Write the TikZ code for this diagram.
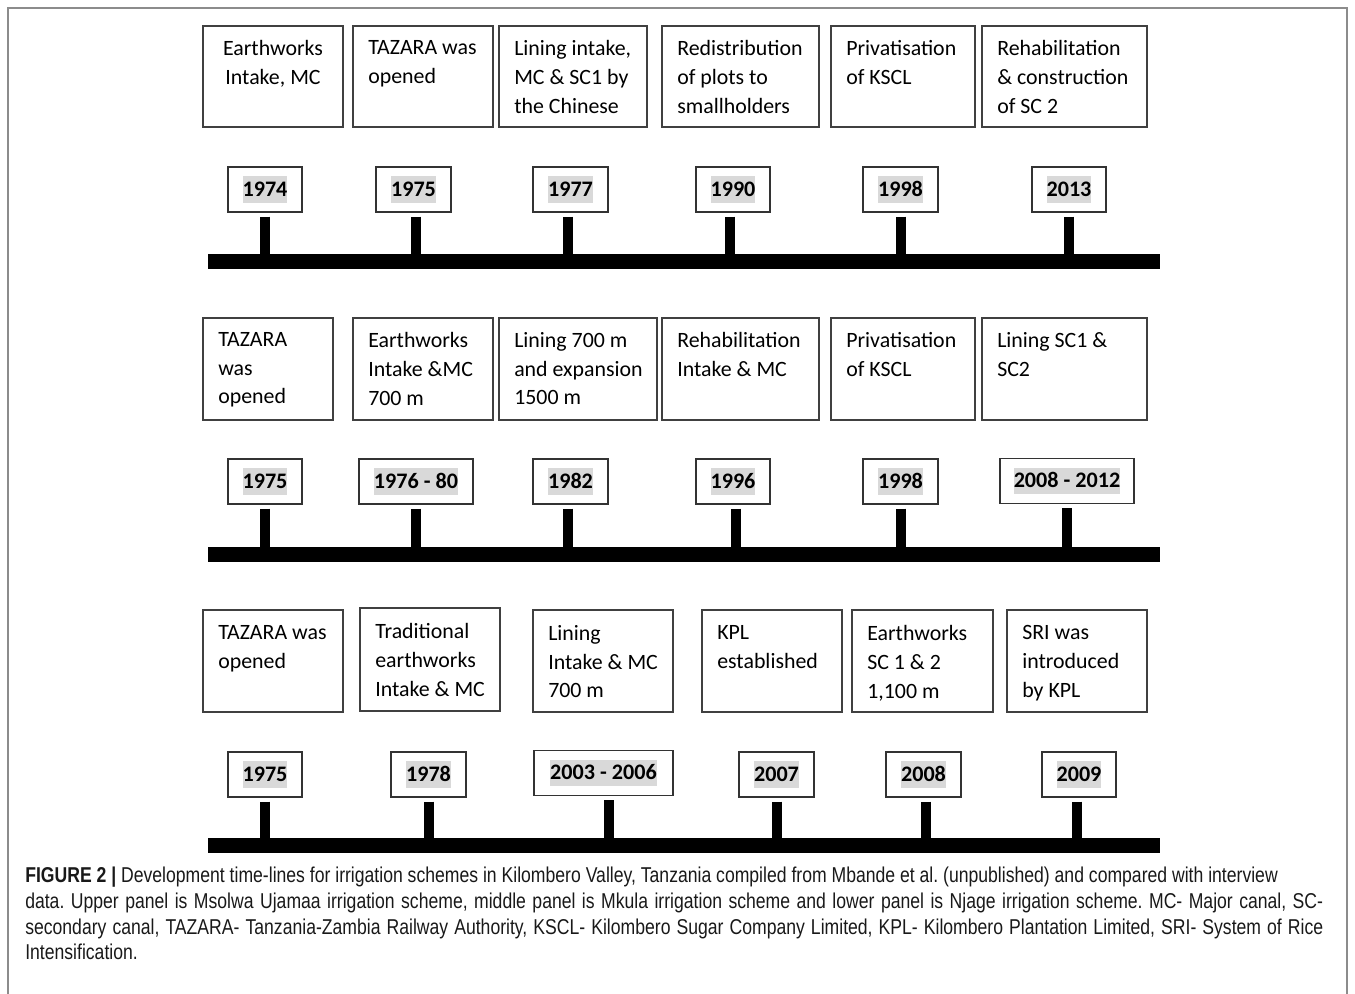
\documentclass[tikz,border=0pt]{standalone}
\usepackage{fontspec}
\setmainfont{Carlito}
\newfontfamily\capfont[FakeStretch=0.82]{Liberation Sans}
\definecolor{hlgrey}{RGB}{217,217,217}
\newcommand{\yr}[1]{{\setlength{\fboxsep}{0pt}\colorbox{hlgrey}{\rule[-4.8pt]{0pt}{20pt}#1}}}

\begin{document}
\begin{tikzpicture}[x=0.75pt,y=0.75pt,yscale=-1,xscale=1,
  frame/.style={draw={rgb, 255:red, 140; green, 140; blue, 140 },line width=1pt},
  evline/.style={draw={rgb, 255:red, 64; green, 64; blue, 64 },line width=1pt},
  evtxt/.style={anchor=north west,inner sep=0pt,align=left,font=\fontsize{16.4}{21.6}\selectfont,execute at begin node=\strut},
  yrbox/.style={draw={rgb, 255:red, 51; green, 51; blue, 51 },line width=1pt,inner sep=0pt,minimum height=33.75pt,font=\bfseries\fontsize{16.6}{19}\selectfont},
  stem/.style={line width=7.5pt,shorten <=3pt},
  bar/.style={fill=black,inner sep=0pt,minimum width=714pt,minimum height=11.25pt}
]
\useasboundingbox (0,0) rectangle (1355,994);
%Straight Lines: frame
\draw [frame] (8,994) -- (8,8) -- (1347,8) -- (1347,994) ;

%%%% upper panel
%Shape: Rectangle
\draw [evline] (203,26) rectangle (343,127) ;
\draw [evline] (353,26) rectangle (493,127) ;
\draw [evline] (499,26) rectangle (647,127) ;
\draw [evline] (662,26) rectangle (819,127) ;
\draw [evline] (831,26) rectangle (975,127) ;
\draw [evline] (982,26) rectangle (1147,127) ;
% Text Node
\node [evtxt,anchor=north,align=center] (ev11) at (273,40) {Earthworks\\Intake, MC};
\node [evtxt] (ev12) at (368,40) {TAZARA was\\opened};
\node [evtxt] (ev13) at (514,40) {Lining intake,\\MC \& SC1 by\\the Chinese};
\node [evtxt] (ev14) at (677,40) {Redistribution\\of plots to\\smallholders};
\node [evtxt] (ev15) at (846,40) {Privatisation\\of KSCL};
\node [evtxt] (ev16) at (997,40) {Rehabilitation\\\& construction\\of SC 2};
% Year Node
\node [yrbox,minimum width=55.5pt] (y11) at (265,189.5) {\yr{1974}};
\node [yrbox,minimum width=56.25pt] (y12) at (413.5,189.5) {\yr{1975}};
\node [yrbox,minimum width=56.25pt] (y13) at (570.5,189.5) {\yr{1977}};
\node [yrbox,minimum width=55.5pt] (y14) at (733,189.5) {\yr{1990}};
\node [yrbox,minimum width=56.25pt] (y15) at (900.5,189.5) {\yr{1998}};
\node [yrbox,minimum width=55.5pt] (y16) at (1069,189.5) {\yr{2013}};
%Shape: Bar
\node [bar] (bar1) at (684,262) {};
%Straight Lines
\draw [stem] (y11.south) -- (y11.south |- bar1.north) ;
\draw [stem] ([xshift=2pt]y12.south) -- ([xshift=2pt]y12.south |- bar1.north) ;
\draw [stem] ([xshift=-2pt]y13.south) -- ([xshift=-2pt]y13.south |- bar1.north) ;
\draw [stem] ([xshift=-2pt]y14.south) -- ([xshift=-2pt]y14.south |- bar1.north) ;
\draw [stem] (y15.south) -- (y15.south |- bar1.north) ;
\draw [stem] (y16.south) -- (y16.south |- bar1.north) ;

%%%% middle panel
%Shape: Rectangle
\draw [evline] (203,318) rectangle (333,420) ;
\draw [evline] (353,318) rectangle (493,420) ;
\draw [evline] (499,318) rectangle (657,420) ;
\draw [evline] (662,318) rectangle (819,420) ;
\draw [evline] (831,318) rectangle (975,420) ;
\draw [evline] (982,318) rectangle (1147,420) ;
% Text Node
\node [evtxt] (ev21) at (218,332) {TAZARA\\was\\opened};
\node [evtxt] (ev22) at (368,332) {Earthworks\\Intake \&MC\\700 m};
\node [evtxt] (ev23) at (514,332) {Lining 700 m\\and expansion\\1500 m};
\node [evtxt] (ev24) at (677,332) {Rehabilitation\\Intake \& MC};
\node [evtxt] (ev25) at (846,332) {Privatisation\\of KSCL};
\node [evtxt] (ev26) at (997,332) {Lining SC1 \&\\SC2};
% Year Node
\node [yrbox,minimum width=55.5pt] (y21) at (265,481.5) {\yr{1975}};
\node [yrbox,minimum width=85.5pt] (y22) at (416,481.5) {\yr{1976 - 80}};
\node [yrbox,minimum width=56.25pt] (y23) at (570.5,481.5) {\yr{1982}};
\node [yrbox,minimum width=55.5pt] (y24) at (733,481.5) {\yr{1996}};
\node [yrbox,minimum width=56.25pt] (y25) at (900.5,481.5) {\yr{1998}};
\node [yrbox,minimum width=100.5pt] (y26) at (1067,481) {\yr{2008 - 2012}};
%Shape: Bar
\node [bar] (bar2) at (684,554.5) {};
%Straight Lines
\draw [stem] (y21.south) -- (y21.south |- bar2.north) ;
\draw [stem] (y22.south) -- (y22.south |- bar2.north) ;
\draw [stem] ([xshift=-2pt]y23.south) -- ([xshift=-2pt]y23.south |- bar2.north) ;
\draw [stem] ([xshift=2pt]y24.south) -- ([xshift=2pt]y24.south |- bar2.north) ;
\draw [stem] (y25.south) -- (y25.south |- bar2.north) ;
\draw [stem] (y26.south) -- (y26.south |- bar2.north) ;

%%%% lower panel
%Shape: Rectangle
\draw [evline] (203,610) rectangle (343,712) ;
\draw [evline] (360,608) rectangle (500,711) ;
\draw [evline] (533,610) rectangle (673,712) ;
\draw [evline] (702,610) rectangle (842,712) ;
\draw [evline] (852,610) rectangle (993,712) ;
\draw [evline] (1007,610) rectangle (1147,712) ;
% Text Node
\node [evtxt] (ev31) at (218,625) {TAZARA was\\opened};
\node [evtxt] (ev32) at (375,623) {Traditional\\earthworks\\Intake \& MC};
\node [evtxt] (ev33) at (548,625) {Lining\\Intake \& MC\\700 m};
\node [evtxt] (ev34) at (717,625) {KPL\\established};
\node [evtxt] (ev35) at (867,625) {Earthworks\\SC 1 \& 2\\1,100 m};
\node [evtxt] (ev36) at (1022,625) {SRI was\\introduced\\by KPL};
% Year Node
\node [yrbox,minimum width=55.5pt] (y31) at (265,774.5) {\yr{1975}};
\node [yrbox,minimum width=56.25pt] (y32) at (428.5,774.5) {\yr{1978}};
\node [yrbox,minimum width=104.25pt] (y33) at (603.5,773) {\yr{2003 - 2006}};
\node [yrbox,minimum width=56.25pt] (y34) at (776.5,774.5) {\yr{2007}};
\node [yrbox,minimum width=56.25pt] (y35) at (923.5,774.5) {\yr{2008}};
\node [yrbox,minimum width=55.5pt] (y36) at (1079,774.5) {\yr{2009}};
%Shape: Bar
\node [bar] (bar3) at (684,845.5) {};
%Straight Lines
\draw [stem] (y31.south) -- (y31.south |- bar3.north) ;
\draw [stem] (y32.south) -- (y32.south |- bar3.north) ;
\draw [stem] ([xshift=4pt]y33.south) -- ([xshift=4pt]y33.south |- bar3.north) ;
\draw [stem] (y34.south) -- (y34.south |- bar3.north) ;
\draw [stem] ([xshift=2pt]y35.south) -- ([xshift=2pt]y35.south |- bar3.north) ;
\draw [stem] ([xshift=-1.5pt]y36.south) -- ([xshift=-1.5pt]y36.south |- bar3.north) ;

% Text Node: caption
\node [anchor=north west,inner sep=0pt,text width=973.5pt,align=justify,text=black!90,font=\capfont\fontsize{16.1}{19.4}\selectfont\frenchspacing,execute at begin node=\strut] (cap) at (25,864) {\textbf{FIGURE 2 |} Development time-lines for irrigation schemes in Kilombero Valley, Tanzania compiled from Mbande et al. (unpublished) and compared with interview\newline data. Upper panel is Msolwa Ujamaa irrigation scheme, middle panel is Mkula irrigation scheme and lower panel is Njage irrigation scheme. MC- Major canal, SC-\linebreak secondary canal, TAZARA- Tanzania-Zambia Railway Authority, KSCL- Kilombero Sugar Company Limited, KPL- Kilombero Plantation Limited, SRI- System of Rice\linebreak Intensification.};

\end{tikzpicture}
\end{document}
